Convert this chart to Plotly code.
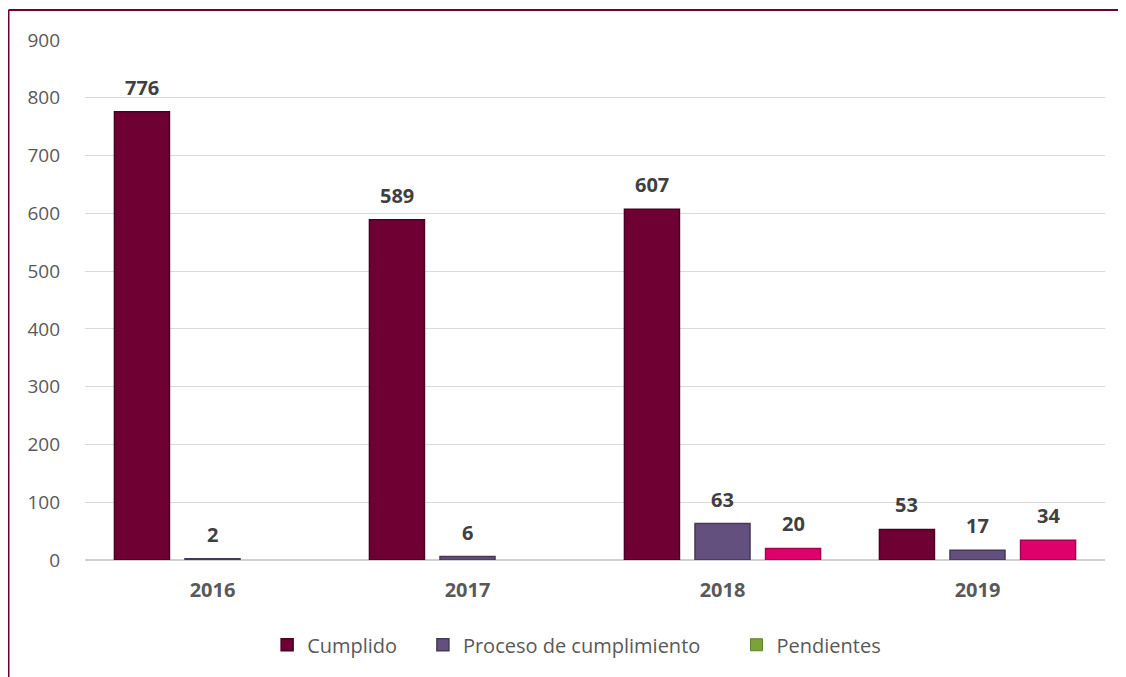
import plotly.graph_objects as go

years = ["2016", "2017", "2018", "2019"]
cumplido = [776, 589, 607, 53]
proceso = [2, 6, 63, 17]
pendientes = [None, None, 20, 34]

c_cumplido = "#6E0034"
c_proceso = "#64507F"
c_pend = "#E0006B"
c_pend_legend = "#7AA33A"
text_color = "#404040"
tick_color = "#595959"
font_family = "Open Sans, Noto Sans, sans-serif"

# page has an 8px body margin, so the figure is sized to fill the window
W, H = 1118, 669
ML, MR, MT, MB = 77, 21, 32, 117
BARGAP, GROUPGAP = 0.17, 0.22

fig = go.Figure()
series = [
    ("Cumplido", cumplido, c_cumplido, "#4A0022", True),
    ("Proceso de cumplimiento", proceso, c_proceso, "#463858", True),
    ("Pendientes", pendientes, c_pend, "#A8004F", False),
]
legend_names = {
    "Cumplido": "Cumplido" + "\u00a0" * 4,
    "Proceso de cumplimiento": "Proceso de cumplimiento" + "\u00a0" * 6,
    "Pendientes": "Pendientes",
}
for name, vals, col, edge, show in series:
    fig.add_trace(go.Bar(
        x=years, y=vals, name=legend_names[name], showlegend=show,
        marker=dict(color=col, line=dict(color=edge, width=1.5)),
    ))
# legend entry for Pendientes (legend swatch is green in the original)
fig.add_trace(go.Scatter(
    x=[None], y=[None], mode="markers", name=legend_names["Pendientes"],
    marker=dict(symbol="square", size=12, color=c_pend_legend,
                line=dict(color="#5B7F2A", width=1)),
))

# value labels above bars (x given as category index)
plot_w = W - ML - MR
cat_px = plot_w / len(years)
slot_px = cat_px * (1 - BARGAP) / len(series)
annotations = []
for i, (name, vals, col, edge, show) in enumerate(series):
    for j, v in enumerate(vals):
        if v is None:
            continue
        annotations.append(dict(
            x=j, y=v, xref="x", yref="y", text=f"<b>{v}</b>", showarrow=False,
            xanchor="center", yanchor="bottom", yshift=9,
            xshift=(i - 1) * slot_px,
            font=dict(size=20, color=text_color, family=font_family),
        ))

ph = H - MT - MB
fig.update_layout(
    width=W, height=H,
    margin=dict(l=ML, r=MR, t=MT, b=MB),
    paper_bgcolor="white", plot_bgcolor="white",
    barmode="group", bargap=BARGAP, bargroupgap=GROUPGAP,
    font=dict(family=font_family, color=tick_color, size=19),
    legend=dict(orientation="h", x=0.482, xanchor="center", y=-0.163, yanchor="middle",
                font=dict(size=20, color=tick_color), itemwidth=30,
                traceorder="normal"),
    xaxis=dict(
        type="category",
        showgrid=False, showline=False, zeroline=False, ticks="",
        ticklabelstandoff=16,
        tickfont=dict(size=20, color=tick_color, family=font_family),
        tickvals=years, ticktext=[f"<b>{y}</b>" for y in years],
    ),
    yaxis=dict(
        range=[0, 900], dtick=100, showgrid=True, gridcolor="#D9D9D9", gridwidth=1,
        zeroline=True, zerolinecolor="#D0D0D0", zerolinewidth=2,
        showline=False, ticks="", ticklabelstandoff=24,
        tickfont=dict(size=19, color=tick_color, family=font_family),
    ),
    annotations=annotations,
    shapes=[
        dict(type="line", xref="paper", yref="paper",
             x0=(0.5 - ML) / plot_w, x1=(0.5 - ML) / plot_w, y0=-0.3, y1=(H - MB - 2) / ph,
             line=dict(color=c_cumplido, width=2)),
        dict(type="line", xref="paper", yref="paper",
             x0=(0.5 - ML) / plot_w, x1=1.1, y0=(H - MB - 2) / ph, y1=(H - MB - 2) / ph,
             line=dict(color=c_cumplido, width=2)),
    ],
)

fig.write_html("out.html")
